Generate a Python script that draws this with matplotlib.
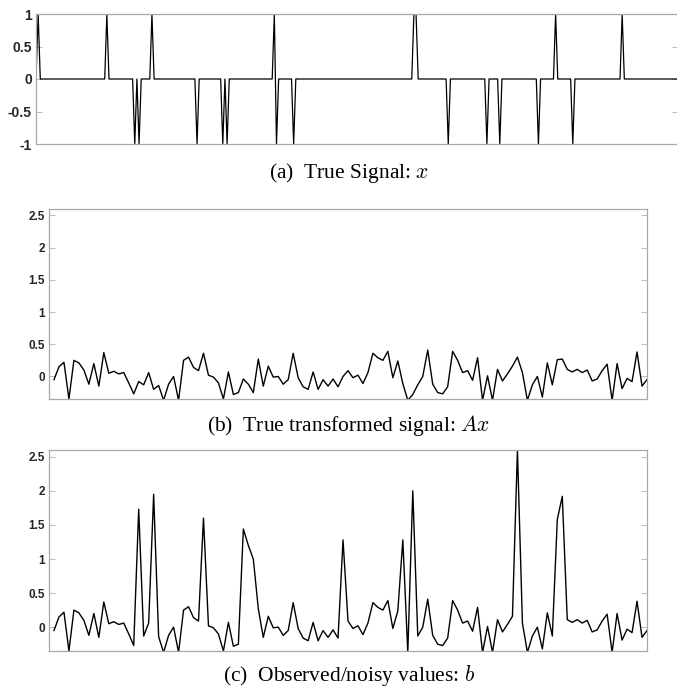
import numpy as np
import matplotlib
matplotlib.use("Agg")
import matplotlib.pyplot as plt

plt.rcParams["mathtext.fontset"] = "cm"

# --- sparse true signal x (length N_SIGNAL), only the nonzero entries (1-based)
N_SIGNAL = 300
x_support = [2, 34, 47, 49, 55, 76, 88, 90, 112, 113, 121,
             177, 178, 193, 211, 217, 235, 243, 251, 274]
x_values = [1, 1, -1, -1, 1, -1, -1, -1, 1, -1, -1,
            1, 1, -1, -1, -1, -1, 1, -1, 1]

# --- transformed signal Ax (120 measurements)
Ax = [-0.05, 0.15, 0.22, -0.35, 0.25, 0.21, 0.10, -0.12, 0.20, -0.15,
      0.37, 0.05, 0.08, 0.04, 0.06, -0.10, -0.27, -0.08, -0.13, 0.06,
      -0.20, -0.14, -0.37, -0.12, 0.00, -0.37, 0.25, 0.30, 0.14, 0.09,
      0.36, 0.02, -0.01, -0.10, -0.35, 0.07, -0.28, -0.25, -0.04, -0.12,
      -0.25, 0.27, -0.15, 0.16, -0.01, 0.00, -0.12, -0.05, 0.36, -0.02,
      -0.16, -0.20, 0.07, -0.20, -0.05, -0.15, -0.04, -0.16, 0.00, 0.09,
      -0.02, 0.02, -0.11, 0.06, 0.36, 0.29, 0.25, 0.39, -0.02, 0.24,
      -0.11, -0.37, -0.28, -0.13, 0.00, 0.41, -0.12, -0.25, -0.27, -0.16,
      0.39, 0.25, 0.06, 0.09, -0.06, 0.29, -0.37, 0.01, -0.37, 0.11,
      -0.07, 0.04, 0.16, 0.30, 0.06, -0.37, -0.13, 0.00, -0.32, 0.21,
      -0.13, 0.26, 0.27, 0.11, 0.07, 0.11, 0.06, 0.10, -0.07, -0.04,
      0.09, 0.19, -0.37, 0.20, -0.19, -0.03, -0.08, 0.38, -0.15, -0.05]

# --- observed b: same as Ax except at the corrupted entries (1-based)
b_corrupt_idx = [18, 21, 31, 39, 40, 41, 59, 71, 73, 94, 102, 103]
b_corrupt_val = [1.73, 1.95, 1.60, 1.44, 1.20, 1.00, 1.28, 1.28, 2.00, 2.60, 1.58, 1.92]

x = np.zeros(N_SIGNAL)
x[np.array(x_support) - 1] = x_values
Ax = np.array(Ax)
b = Ax.copy()
b[np.array(b_corrupt_idx) - 1] = b_corrupt_val

W, H = 677, 688
fig = plt.figure(figsize=(W / 100, H / 100), dpi=100)


def px_axes(left, top, right, bottom):
    return fig.add_axes([left / W, 1 - bottom / H, (right - left) / W, (bottom - top) / H])


def style(ax, yticks, ylim, xlim, fs):
    ax.set_xlim(*xlim)
    ax.set_ylim(*ylim)
    ax.set_xticks([])
    ax.set_yticks(yticks)
    ax.set_yticklabels([f"{t:g}" for t in yticks], fontsize=fs, fontweight="bold",
                       family="Liberation Sans", color="#262626")
    ax.tick_params(axis="y", direction="in", right=True, length=4, width=0.6,
                   color="#b0b0b0", pad=3)
    for sp in ax.spines.values():
        sp.set_color("#a8a8a8")
        sp.set_linewidth(0.9)


ax_a = px_axes(36, 14, 678, 144)
ax_a.plot(np.arange(1, N_SIGNAL + 1), x, color="black", lw=0.9)
style(ax_a, [-1, -0.5, 0, 0.5, 1], (-1, 1), (1, N_SIGNAL), 10)

ylim_b = (-0.35, 2.6)
m = np.arange(1, len(Ax) + 1)

ax_b = px_axes(49, 209, 647, 399)
ax_b.plot(m, Ax, color="black", lw=1.0)
style(ax_b, [0, 0.5, 1, 1.5, 2, 2.5], ylim_b, (0, len(Ax)), 8.5)

ax_c = px_axes(49, 450, 647, 651)
ax_c.plot(m, b, color="black", lw=1.0)
style(ax_c, [0, 0.5, 1, 1.5, 2, 2.5], ylim_b, (0, len(b)), 8.5)

captions = [
    (173, r"(a)  True Signal: $x$"),
    (425, r"(b)  True transformed signal: $Ax$"),
    (675, r"(c)  Observed/noisy values: $b$"),
]
for y, txt in captions:
    fig.text(349 / W, 1 - y / H, txt, ha="center", va="center",
             fontsize=15.5, family="Liberation Serif")

fig.savefig("out.png", dpi=100)
